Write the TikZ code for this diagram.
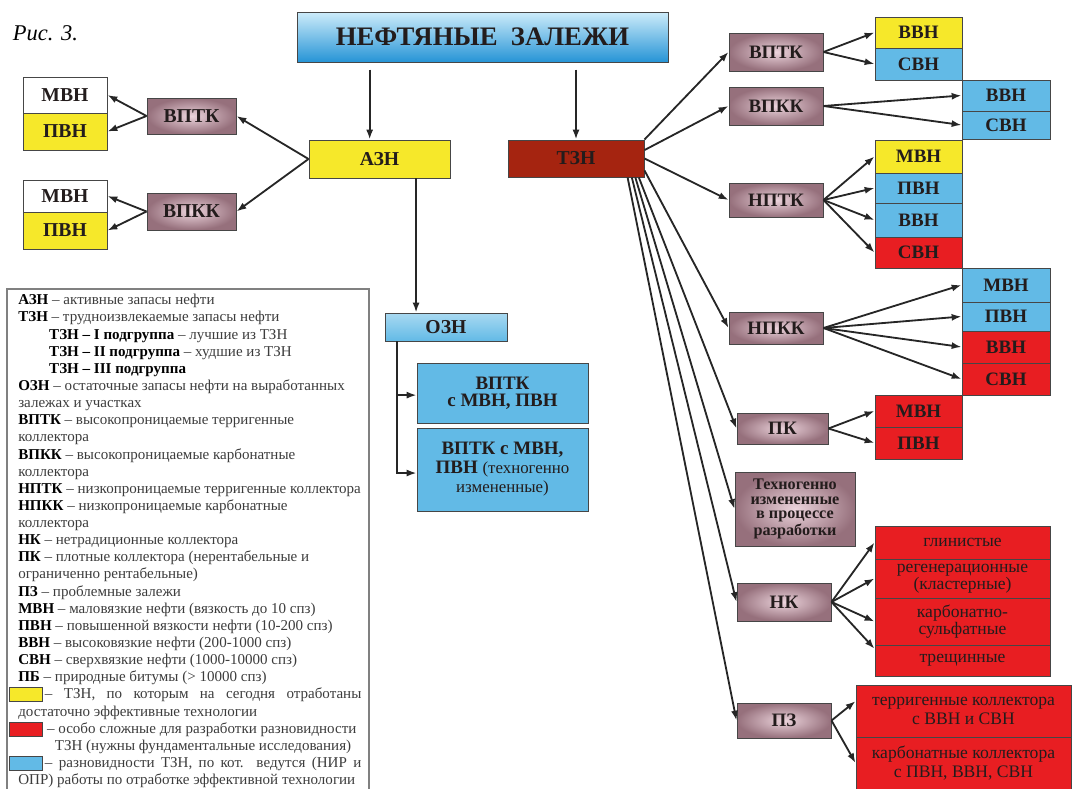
\documentclass[tikz,border=0pt]{standalone}
\usepackage{fontspec}
\setmainfont{Liberation Serif}
\usetikzlibrary{calc,arrows.meta}
\definecolor{yel}{RGB}{246,232,42}
\definecolor{lblue}{RGB}{98,186,230}
\definecolor{redb}{RGB}{232,30,34}
\definecolor{tznc}{RGB}{165,36,16}
\definecolor{mvin}{RGB}{236,212,220}
\definecolor{mvout}{RGB}{150,112,124}
\definecolor{bordc}{RGB}{70,70,70}
\definecolor{txtc}{RGB}{35,28,28}
\definecolor{legc}{RGB}{60,60,60}
\definecolor{ttop}{RGB}{205,236,250}
\definecolor{tbot}{RGB}{38,148,214}
\newcommand{\pxu}{0.025cm}

\begin{document}
\begin{tikzpicture}[x=0.025cm,y=-0.025cm,
  bx/.style 2 args={draw=bordc,line width=0.7pt,inner sep=0pt,minimum width=#1*\pxu,minimum height=#2*\pxu,align=center,text=txtc},
  lbl/.style={font=\bfseries\fontsize{14}{15}\selectfont},
  slbl/.style={font=\bfseries\fontsize{13.5}{14}\selectfont},
  rtxt/.style={font=\fontsize{12.5}{11}\selectfont},
  wb/.style={fill=white},
  yb/.style={fill=yel},
  bb/.style={fill=lblue},
  rb/.style={fill=redb},
  mv/.style={inner color=mvin,outer color=mvout},
  arr/.style={-{Latex[length=7pt,width=5pt]},line width=1.3pt,draw=black!85}]
\useasboundingbox (0,0) rectangle (1072,789);

\node[anchor=west,font=\itshape\fontsize{16}{18}\selectfont] (fig) at (8,33) {Рис. 3.};

\node[bx={371}{50},top color=ttop,bottom color=tbot,font=\bfseries\fontsize{19}{20}\selectfont] (title) at (482.5,37) {НЕФТЯНЫЕ\ \ ЗАЛЕЖИ};

\node[bx={141}{38},yb,lbl] (azn) at (379.5,159) {АЗН};
\node[bx={136}{37},fill=tznc,lbl] (tzn) at (576,158.5) {ТЗН};
\draw[arr,shorten <=5pt] ([xshift=-7pt]azn.north |- title.south) -- ([xshift=-7pt]azn.north);
\draw[arr,shorten <=5pt] (tzn.north |- title.south) -- (tzn.north);

\node[bx={89}{36},mv,lbl] (vptkL) at (191.5,116) {ВПТК};
\node[bx={89}{37},mv,lbl] (vpkkL) at (191.5,211.5) {ВПКК};
\node[bx={84}{36},wb,lbl] (mvnA) at (65,95) {МВН};
\node[bx={84}{37},yb,lbl] (pvnA) at (65,131.5) {ПВН};
\node[bx={84}{32},wb,lbl] (mvnB) at (65,196) {МВН};
\node[bx={84}{37},yb,lbl] (pvnB) at (65,230.5) {ПВН};
\draw[arr] (azn.west) -- (vptkL.east);
\draw[arr] (azn.west) -- (vpkkL.east);
\draw[arr] (vptkL.west) -- (mvnA.east);
\draw[arr] (vptkL.west) -- (pvnA.east);
\draw[arr] (vpkkL.west) -- (mvnB.east);
\draw[arr] (vpkkL.west) -- (pvnB.east);

\node[bx={122}{28},top color=lblue!55,middle color=white,bottom color=lblue,lbl] (ozn) at (446,327) {ОЗН};
\node[bx={171}{60},bb,font=\bfseries\fontsize{13.5}{12}\selectfont] (oznA) at (502.5,393) {ВПТК\\с МВН, ПВН};
\node[bx={171}{83},bb,font=\bfseries\fontsize{13.5}{13.5}\selectfont] (oznB) at (502.5,469.5) {ВПТК с МВН,\\ПВН {\normalfont\fontsize{12}{13.5}\selectfont(техногенно}\\{\normalfont\fontsize{12}{13.5}\selectfont измененные)}};
\draw[arr] ([xshift=26pt]azn.south) -- ([xshift=26pt]azn.south |- ozn.north);
\draw[arr] ([xshift=9pt]ozn.south west) |- ([yshift=-1.5pt]oznA.west);
\draw[arr] ([xshift=9pt]ozn.south west) |- ([yshift=-2.5pt]oznB.west);

\node[bx={94}{38},mv,slbl] (vptkR) at (776,52) {ВПТК};
\node[bx={94}{38},mv,slbl] (vpkkR) at (776,106) {ВПКК};
\node[bx={94}{34},mv,slbl] (nptk) at (776,200) {НПТК};
\node[bx={94}{32},mv,slbl] (npkk) at (776,328) {НПКК};
\node[bx={91}{31},mv,slbl] (pk) at (782.5,428.5) {ПК};
\node[bx={120}{74},mv,font=\bfseries\fontsize{11.5}{10.4}\selectfont] (tech) at (795,509) {Техногенно\\измененные\\в процессе\\разработки};
\node[bx={94}{38},mv,slbl] (nk) at (784,602) {НК};
\node[bx={94}{35},mv,slbl] (pz) at (784,720.5) {ПЗ};

\node[bx={87}{31},yb,slbl] (vvnA) at (918.5,32.5) {ВВН};
\node[bx={87}{32},bb,slbl] (svnA) at (918.5,64) {СВН};
\node[bx={88}{31},bb,slbl] (vvnB) at (1006,95.5) {ВВН};
\node[bx={88}{28},bb,slbl] (svnB) at (1006,125) {СВН};
\node[bx={87}{33},yb,slbl] (mvnC) at (918.5,156.5) {МВН};
\node[bx={87}{30},bb,slbl] (pvnC) at (918.5,188) {ПВН};
\node[bx={87}{34},bb,slbl] (vvnC) at (918.5,220) {ВВН};
\node[bx={87}{31},rb,slbl] (svnC) at (918.5,252.5) {СВН};
\node[bx={88}{34},bb,slbl] (mvnD) at (1006,285) {МВН};
\node[bx={88}{29},bb,slbl] (pvnD) at (1006,316.5) {ПВН};
\node[bx={88}{32},rb,slbl] (vvnD) at (1006,347) {ВВН};
\node[bx={88}{32},rb,slbl] (svnD) at (1006,379) {СВН};
\node[bx={87}{32},rb,slbl] (mvnE) at (918.5,411) {МВН};
\node[bx={87}{32},rb,slbl] (pvnE) at (918.5,443) {ПВН};

\node[bx={175}{33},rb,rtxt] (nkA) at (962.5,542.5) {глинистые};
\node[bx={175}{39},rb,rtxt] (nkB) at (962.5,578.5) {регенерационные\\(кластерные)};
\node[bx={175}{47},rb,rtxt] (nkC) at (962.5,621.5) {карбонатно-\\сульфатные};
\node[bx={175}{31},rb,rtxt] (nkD) at (962.5,660.5) {трещинные};
\node[bx={215}{52},rb,rtxt,font=\fontsize{12.5}{14}\selectfont] (pzA) at (963.5,711) {терригенные коллектора\\с ВВН и СВН};
\node[bx={215}{52},rb,rtxt,font=\fontsize{12.5}{14}\selectfont] (pzB) at (963.5,763) {карбонатные коллектора\\с ПВН, ВВН, СВН};

\draw[arr] (tzn.north east) -- (vptkR.west);
\draw[arr] ([yshift=6pt]tzn.east) -- (vpkkR.west);
\draw[arr] (tzn.east) -- (nptk.west);
\draw[arr] ([yshift=5pt]tzn.south east) -- (npkk.west);
\draw[arr] ([xshift=-4pt]tzn.south east) -- (pk.west);
\draw[arr] ([xshift=-6.5pt]tzn.south east) -- (tech.west);
\draw[arr] ([xshift=-9pt]tzn.south east) -- (nk.west);
\draw[arr] ([xshift=-12pt]tzn.south east) -- (pz.west);

\draw[arr] (vptkR.east) -- (vvnA.west);
\draw[arr] (vptkR.east) -- (svnA.west);
\draw[arr] (vpkkR.east) -- (vvnB.west);
\draw[arr] (vpkkR.east) -- (svnB.west);
\draw[arr] (nptk.east) -- (mvnC.west);
\draw[arr] (nptk.east) -- (pvnC.west);
\draw[arr] (nptk.east) -- (vvnC.west);
\draw[arr] (nptk.east) -- (svnC.west);
\draw[arr] (npkk.east) -- (mvnD.west);
\draw[arr] (npkk.east) -- (pvnD.west);
\draw[arr] (npkk.east) -- (vvnD.west);
\draw[arr] (npkk.east) -- (svnD.west);
\draw[arr] (pk.east) -- (mvnE.west);
\draw[arr] (pk.east) -- (pvnE.west);
\draw[arr] (nk.east) -- (nkA.west);
\draw[arr] (nk.east) -- (nkB.west);
\draw[arr] (nk.east) -- (nkC.west);
\draw[arr] (nk.east) -- ([yshift=-3pt]nkD.north west);
\draw[arr] (pz.east) -- ([yshift=7pt]pzA.west);
\draw[arr] (pz.east) -- (pzB.west);

\draw[draw=black!50,line width=0.8pt] (7,289) rectangle (369,800);
\draw[draw=bordc,line width=0.6pt,fill=yel] (9,687) rectangle (42,701);
\draw[draw=bordc,line width=0.6pt,fill=redb] (9,722) rectangle (42,736);
\draw[draw=bordc,line width=0.6pt,fill=lblue] (9,756) rectangle (42,770);
\node[anchor=north west,inner sep=0pt,align=left,text=legc,font=\fontsize{10.7}{12.19}\selectfont] (leg) at (18,294) {%
\textbf{\color{black}АЗН} – активные запасы нефти\\
\textbf{\color{black}ТЗН} – трудноизвлекаемые запасы нефти\\
\hspace*{22pt}\textbf{\color{black}ТЗН – I подгруппа} – лучшие из ТЗН\\
\hspace*{22pt}\textbf{\color{black}ТЗН – II подгруппа} – худшие из ТЗН\\
\hspace*{22pt}\textbf{\color{black}ТЗН – III подгруппа}\\
\textbf{\color{black}ОЗН} – остаточные запасы нефти на выработанных\\
залежах и участках\\
\textbf{\color{black}ВПТК} – высокопроницаемые терригенные\\
коллектора\\
\textbf{\color{black}ВПКК} – высокопроницаемые карбонатные\\
коллектора\\
\textbf{\color{black}НПТК} – низкопроницаемые терригенные коллектора\\
\textbf{\color{black}НПКК} – низкопроницаемые карбонатные\\
коллектора\\
\textbf{\color{black}НК} – нетрадиционные коллектора\\
\textbf{\color{black}ПК} – плотные коллектора (нерентабельные и\\
ограниченно рентабельные)\\
\textbf{\color{black}ПЗ} – проблемные залежи\\
\textbf{\color{black}МВН} – маловязкие нефти (вязкость до 10 спз)\\
\textbf{\color{black}ПВН} – повышенной вязкости нефти (10-200 спз)\\
\textbf{\color{black}ВВН} – высоковязкие нефти (200-1000 спз)\\
\textbf{\color{black}СВН} – сверхвязкие нефти (1000-10000 спз)\\
\textbf{\color{black}ПБ} – природные битумы (> 10000 спз)\\
\hspace*{19pt}\makebox[225pt][s]{– ТЗН, по которым на сегодня отработаны}\\
достаточно эффективные технологии\\
\hspace*{20.5pt}– особо сложные для разработки разновидности\\
\hspace*{26pt}ТЗН (нужны фундаментальные исследования)\\
\hspace*{19pt}\makebox[225pt][s]{– разновидности ТЗН, по кот. ведутся (НИР и}\\
ОПР) работы по отработке эффективной технологии};
\end{tikzpicture}
\end{document}
